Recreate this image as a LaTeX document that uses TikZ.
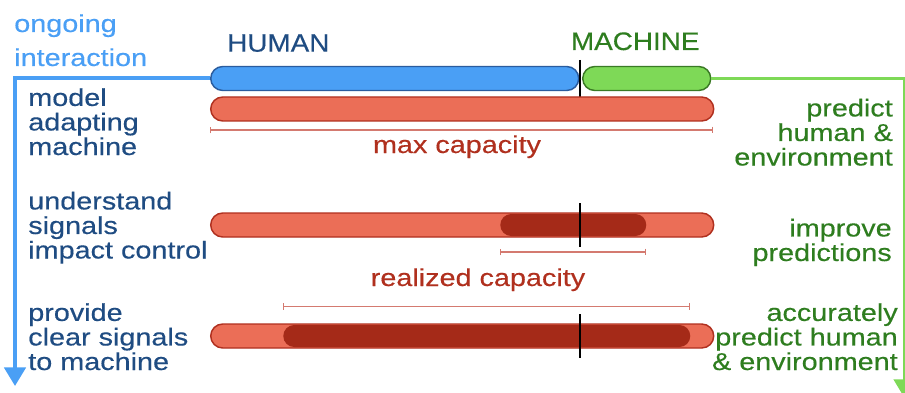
\documentclass[tikz,border=0pt]{standalone}
\usepackage{fontspec}
\setmainfont{Liberation Sans}[FakeStretch=1.18, FakeBold=0.4]
\newfontfamily\headfont{Liberation Sans}[FakeStretch=1.1, FakeBold=0.4]
\usetikzlibrary{arrows.meta}

\definecolor{lightblue}{HTML}{4A9FF5}
\definecolor{humanedge}{HTML}{2A5C9E}
\definecolor{darkblue}{HTML}{1F4C82}
\definecolor{lightgreen}{HTML}{7ED957}
\definecolor{greenedge}{HTML}{3A7A25}
\definecolor{darkgreen}{HTML}{2E7D1F}
\definecolor{barred}{HTML}{EB6E57}
\definecolor{rededge}{HTML}{B0301F}
\definecolor{deepred}{HTML}{A52A18}
\definecolor{rangered}{HTML}{D47A70}
\definecolor{capred}{HTML}{B0301E}

\tikzset{
  bar/.style={draw, line width=1.1pt, rounded corners=9pt, inner sep=0pt,
    minimum height=18pt, anchor=west},
  inner bar/.style={fill=deepred, rounded corners=8.2pt, inner sep=0pt,
    minimum height=16.5pt, anchor=west},
  divider/.style={line width=1.5pt, black},
  spanline/.style={rangered, line width=1.1pt, {Bar[width=5pt]}-{Bar[width=5pt]}},
  body/.style={font=\fontsize{18.3}{18.4}\selectfont, inner sep=0pt, align=left},
  lefttext/.style={body, darkblue, anchor=base west},
  righttext/.style={body, darkgreen, anchor=base east, align=right},
  captext/.style={body, capred, anchor=base},
  head/.style={font=\headfont\fontsize{19}{19}\selectfont, inner sep=0pt, anchor=base west},
  flow/.style={line width=3pt, -{Triangle[width=16pt,length=14pt]}},
}

\begin{document}
\begin{tikzpicture}[x=0.75pt, y=-0.75pt]
\useasboundingbox (0,0) rectangle (905,392);

% headings
\node[body, lightblue, anchor=base west] (ongoing) at (14,32) {ongoing};
\node[body, lightblue, anchor=base west] (interaction) at (14,66) {interaction};
\node[head, darkblue] (humanlabel) at (227,51.7) {HUMAN};
\node[head, darkgreen] (machinelabel) at (570.7,50) {MACHINE};

% top split bar
\node[bar, fill=lightblue, draw=humanedge, minimum width=276pt] (human) at (210,78.5) {};
\node[bar, fill=lightgreen, draw=greenedge, minimum width=96pt] (machine) at (582,78.5) {};
\draw[divider] (580,60) -- (580,97);

% interaction flows
\coordinate (leftend) at (15,386);
\coordinate (rightend) at (904.5,398);
\draw[flow, lightblue] (human.west) -| (leftend);
\draw[flow, lightgreen, line width=2.6pt] (machine.east) -| (rightend);

% capacity bars
\node[bar, fill=barred, draw=rededge, minimum width=377.25pt] (cap1) at (210,109) {};
\draw[spanline] (210,130) -- (713,130);
\node[captext] (maxcap) at (457,153) {max capacity};

\node[bar, fill=barred, draw=rededge, minimum width=377.25pt] (cap2) at (210,225) {};
\node[inner bar, minimum width=109.5pt] (real2) at (500,225) {};
\draw[divider] (580,203) -- (580,247);
\draw[spanline] (500,252) -- (646,252);
\node[captext] (realcap) at (478,286) {realized capacity};

\node[bar, fill=barred, draw=rededge, minimum width=377.25pt] (cap3) at (210,336) {};
\node[inner bar, minimum width=305.25pt] (real3) at (283,336) {};
\draw[divider] (580,314) -- (580,358);
\draw[spanline] (283,306.5) -- (690,306.5);

% human side
\node[lefttext] (h1) at (28,155) {model\\adapting\\machine};
\node[lefttext] (h2) at (28,258.5) {understand\\signals\\impact control};
\node[lefttext] (h3) at (28,370) {provide\\clear signals\\to machine};

% machine side
\node[righttext] (m1) at (893,165.5) {predict\\human \&\\environment};
\node[righttext] (m2) at (892,261) {improve\\predictions};
\node[righttext] (m3) at (898,370) {accurately\\predict human\\\& environment};
\end{tikzpicture}
\end{document}
